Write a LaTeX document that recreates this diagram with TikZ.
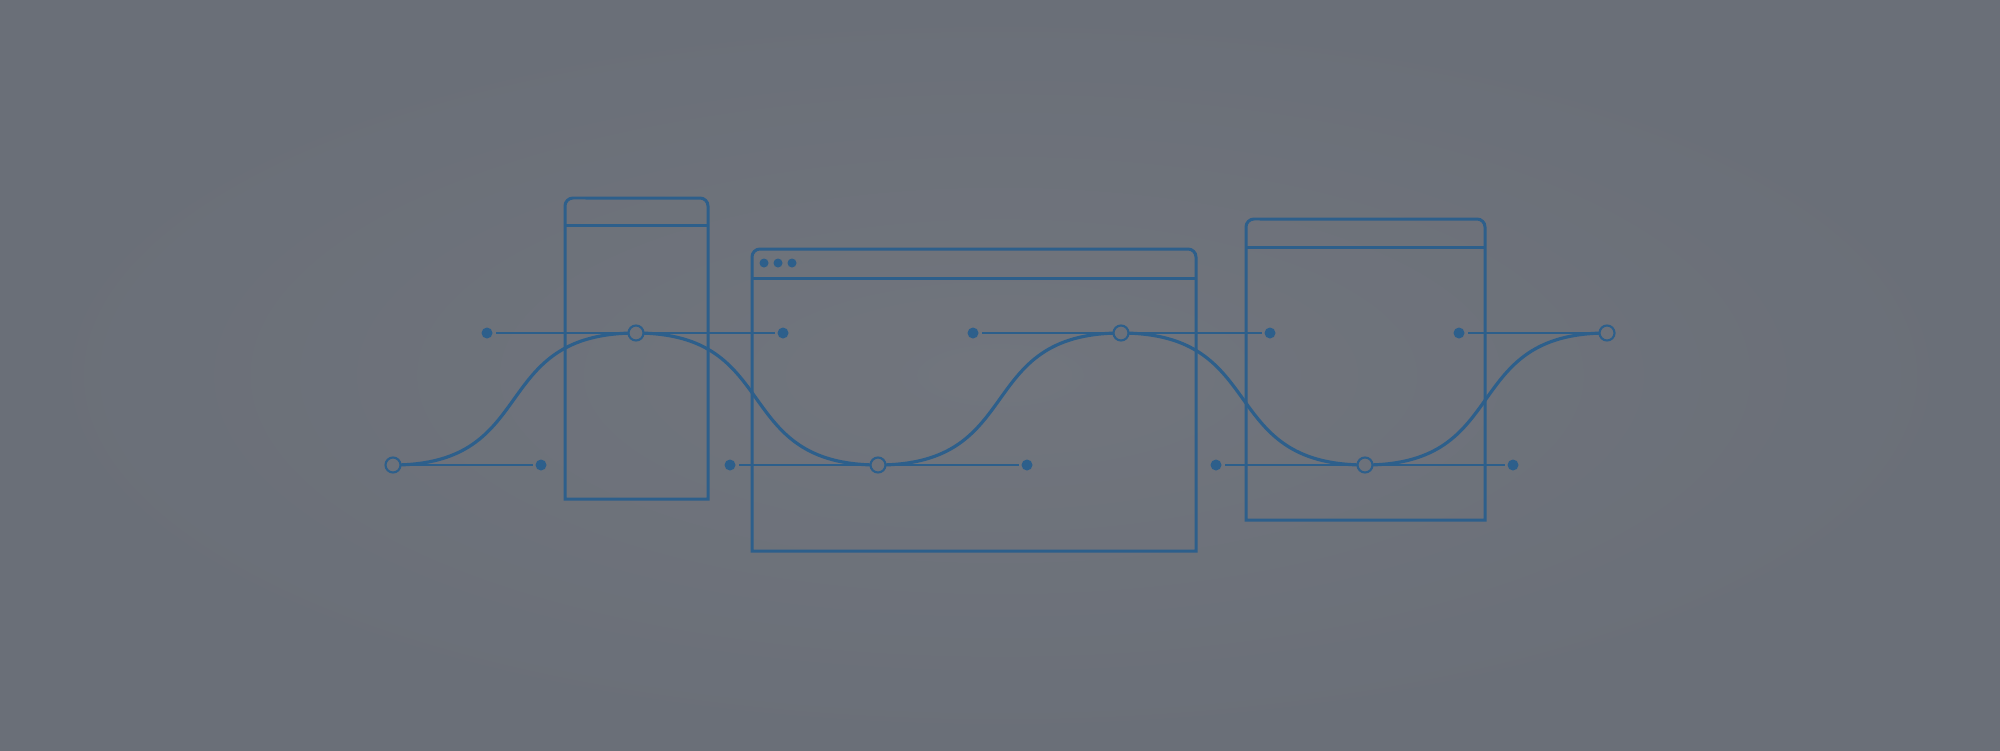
\documentclass[tikz,border=0pt]{standalone}
\usetikzlibrary{calc}
\definecolor{bg}{HTML}{6C717A}
\definecolor{bgin}{HTML}{71757D}
\definecolor{bgout}{HTML}{6A6F78}
\definecolor{ln}{HTML}{2D5F8B}
\begin{document}
\begin{tikzpicture}[x=0.01cm,y=0.01cm,
  boxline/.style={draw=ln,line width=0.85pt,line join=miter},
  curveline/.style={draw=ln,line width=0.9pt},
  handleline/.style={draw=ln,line width=0.55pt},
  anchorpt/.style={circle,draw=ln,fill=bg,line width=0.6pt,minimum size=0.15cm,inner sep=0pt,outer sep=0pt},
  handlept/.style={circle,fill=ln,minimum size=0.11cm,inner sep=0pt,outer sep=0.03cm},
  tinydot/.style={circle,fill=ln,minimum size=0.09cm,inner sep=0pt}]
\useasboundingbox (0,0) rectangle (2000,750);
\shade[inner color=bgin,outer color=bgout] (0,0) rectangle (2000,750);
% box 1 (tall)
\draw[boxline] (565,251) -- (565,544) arc[start angle=180,end angle=90,radius=0.08cm] -- (700,552) arc[start angle=90,end angle=0,radius=0.08cm] -- (708,251) -- cycle;
\draw[boxline] (565,525) -- (708,525);
% box 2 (browser)
\draw[boxline] (752,199) -- (752,493) arc[start angle=180,end angle=90,radius=0.08cm] -- (1188,501) arc[start angle=90,end angle=0,radius=0.08cm] -- (1196,199) -- cycle;
\draw[boxline] (752,472) -- (1196,472);
\node[tinydot] (d1) at (764,487) {};
\node[tinydot] (d2) at (778,487) {};
\node[tinydot] (d3) at (792,487) {};
% box 3
\draw[boxline] (1246,230) -- (1246,523) arc[start angle=180,end angle=90,radius=0.08cm] -- (1477,531) arc[start angle=90,end angle=0,radius=0.08cm] -- (1485,230) -- cycle;
\draw[boxline] (1246,503) -- (1485,503);
% anchor and handle positions
\coordinate (A0) at (393,285);
\coordinate (A1) at (636,417);
\coordinate (A2) at (878,285);
\coordinate (A3) at (1121,417);
\coordinate (A4) at (1365,285);
\coordinate (A5) at (1607,417);
\coordinate (H0r) at (541,285);
\coordinate (H1l) at (487,417);
\coordinate (H1r) at (783,417);
\coordinate (H2l) at (730,285);
\coordinate (H2r) at (1027,285);
\coordinate (H3l) at (973,417);
\coordinate (H3r) at (1270,417);
\coordinate (H4l) at (1216,285);
\coordinate (H4r) at (1513,285);
\coordinate (H5l) at (1459,417);
% curve
\draw[curveline] (A0) .. controls (H0r) and (H1l) .. (A1)
  .. controls (H1r) and (H2l) .. (A2)
  .. controls (H2r) and (H3l) .. (A3)
  .. controls (H3r) and (H4l) .. (A4)
  .. controls (H4r) and (H5l) .. (A5);
% points
\foreach \n in {A0,A1,A2,A3,A4,A5}{\node[anchorpt] (n\n) at (\n) {};}
\foreach \n in {H0r,H1l,H1r,H2l,H2r,H3l,H3r,H4l,H4r,H5l}{\node[handlept] (n\n) at (\n) {};}
% handle lines
\draw[handleline] (nA0) -- (nH0r);
\draw[handleline] (nA1) -- (nH1l);
\draw[handleline] (nA1) -- (nH1r);
\draw[handleline] (nA2) -- (nH2l);
\draw[handleline] (nA2) -- (nH2r);
\draw[handleline] (nA3) -- (nH3l);
\draw[handleline] (nA3) -- (nH3r);
\draw[handleline] (nA4) -- (nH4l);
\draw[handleline] (nA4) -- (nH4r);
\draw[handleline] (nA5) -- (nH5l);
\end{tikzpicture}
\end{document}
